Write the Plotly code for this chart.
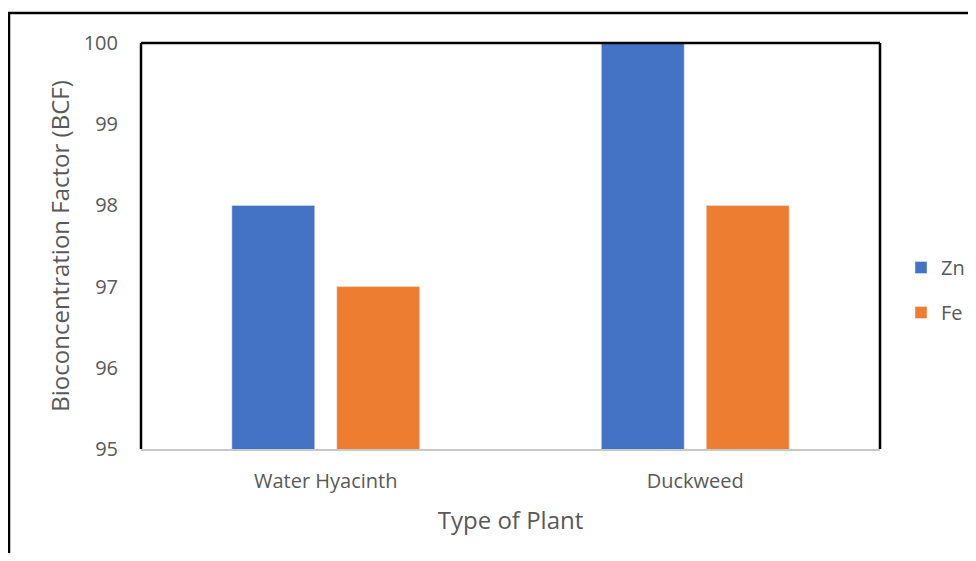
import plotly.graph_objects as go

categories = ["Water Hyacinth", "Duckweed"]
zn_values = [98, 100]
fe_values = [97, 98]
series_names = ["Zn", "Fe"]
y_ticks = [95, 96, 97, 98, 99, 100]

# page adds 8px body margin; figure sized to fit the 976x561 window
OFF = 8
W, H = 976 - 2 * OFF, 561 - 2 * OFF
# plot area in window pixels: x 141..880, y 43..449
L = 141 - OFF
T = 43 - OFF
R = W - (880 - OFF)
B = H - (449 - OFF)
pw, ph = W - L - R, H - T - B

def px_x(x):
    return (x - OFF - L) / pw

def px_y(y):
    return (H - B - (y - OFF)) / ph

font_family = "Open Sans, Liberation Sans, sans-serif"
grey = "#595959"

fig = go.Figure()
fig.add_trace(go.Bar(x=categories, y=zn_values, name=series_names[0],
                     marker_color="#4472C4", legendgroup="zn"))
fig.add_trace(go.Bar(x=categories, y=fe_values, name=series_names[1],
                     marker_color="#ED7D31", legendgroup="fe"))

fig.update_layout(
    width=W, height=H,
    margin=dict(l=L, r=R, t=T, b=B, autoexpand=False),
    paper_bgcolor="white", plot_bgcolor="white",
    barmode="group", bargap=0.432, bargroupgap=0.21,
    font=dict(family=font_family, color=grey, size=20),
    legend=dict(x=px_x(901), y=px_y(248), xanchor="left", yanchor="top",
                font=dict(size=20, color=grey),
                tracegroupgap=16, itemwidth=30),
    showlegend=True,
)
fig.update_xaxes(
    showline=True, linecolor="#c8c8c8", linewidth=2, ticks="",
    tickfont=dict(size=20, color=grey), ticklabelstandoff=13,
    title=dict(text="Type of Plant", font=dict(size=24, color=grey), standoff=19),
)
fig.update_yaxes(
    range=[95, 100], tickvals=y_ticks, showgrid=False, zeroline=False,
    showline=False, ticks="", tickfont=dict(size=20, color=grey),
    ticklabelstandoff=22,
    title=dict(text="Bioconcentration Factor (BCF)", font=dict(size=24, color=grey), standoff=7),
)

# plot area border: left, top, right in black
for x0, y0, x1, y1 in [(0, 0, 0, 1), (0, 1, 1, 1), (1, 0, 1, 1)]:
    fig.add_shape(type="line", xref="paper", yref="paper", x0=x0, y0=y0, x1=x1, y1=y1,
                  line=dict(color="black", width=2.5), layer="above")

# outer chart border
fig.add_shape(type="rect", xref="paper", yref="paper",
              x0=px_x(9), y0=px_y(13), x1=px_x(1000), y1=px_y(600),
              line=dict(color="black", width=2.5), layer="above")

fig.write_html("out.html")
